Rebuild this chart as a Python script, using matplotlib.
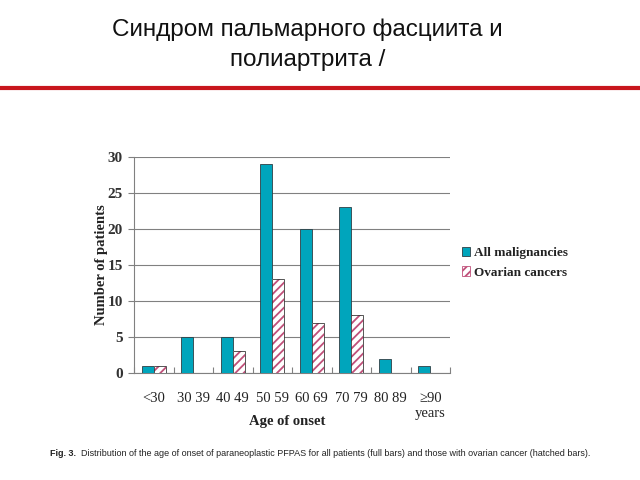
import matplotlib
matplotlib.use("Agg")
import matplotlib.pyplot as plt
import numpy as np
from matplotlib.patches import Patch

categories = ["<30", "30 39", "40 49", "50 59", "60 69", "70 79", "80 89", "≥90\nyears"]
all_malignancies = [1, 5, 5, 29, 20, 23, 2, 1]
ovarian_cancers = [1, 0, 3, 13, 7, 8, 0, 0]
yticks = [0, 5, 10, 15, 20, 25, 30]

SERIF = ['Liberation Serif', 'DejaVu Serif']
plt.rcParams['hatch.linewidth'] = 1.3

fig = plt.figure(figsize=(6.4, 4.8), dpi=100)
fig.patch.set_facecolor('white')

# Title
fig.text(0.48, 1 - 30/480, "Синдром пальмарного фасциита и", ha='center', va='center',
         fontsize=17.5, family='Liberation Sans', color='#111111')
fig.text(0.48, 1 - 60/480, "полиартрита /", ha='center', va='center',
         fontsize=17.5, family='Liberation Sans', color='#111111')
# red rule
fig.add_artist(plt.Line2D([0, 1], [1 - 88/480, 1 - 88/480], color='#c8161d', lw=3,
                          transform=fig.transFigure))

ax = fig.add_axes([134/640, 1 - 373/480, (450 - 134)/640, (373 - 157)/480])
x = np.arange(len(categories))
w = 0.3
ax.bar(x - w/2, all_malignancies, w, color='#00a5bc', edgecolor='#2f3f45', lw=0.6,
       zorder=3)
ax.bar(x + w/2, ovarian_cancers, w, color='white', edgecolor='#c0507a', lw=0,
       hatch='////', zorder=3)
ax.bar(x + w/2, ovarian_cancers, w, fill=False, edgecolor='#3a3a3a', lw=0.6, zorder=4)

ax.set_xlim(-0.5, len(categories) - 0.5)
ax.set_ylim(0, 30)
ax.set_yticks(yticks)
ax.yaxis.grid(True, color='#808080', lw=0.8, zorder=0)
ax.set_axisbelow(True)
for s in ['top', 'right']:
    ax.spines[s].set_visible(False)
ax.spines['left'].set_color('#808080')
ax.spines['bottom'].set_color('#808080')
ax.set_xticks(np.arange(-0.5, len(categories), 1.0), minor=False)
ax.set_xticklabels([])
ax.set_xticks(x, minor=True)
ax.set_xticklabels(categories, minor=True, family=SERIF, fontsize=10.5, va='top',
                   linespacing=1.2)
ax.tick_params(axis='x', which='minor', length=0, pad=14)
ax.tick_params(axis='x', which='major', length=4, direction='in', color='#808080')
ax.tick_params(axis='y', length=4, color='#808080', pad=4)
for t in ax.get_yticklabels():
    t.set_family(SERIF); t.set_fontweight('bold'); t.set_fontsize(11); t.set_color('#333333')
for t in ax.xaxis.get_minorticklabels():
    t.set_color('#222222')

ax.set_ylabel('Number of patients', family=SERIF, fontweight='bold', fontsize=10.5,
              color='#222222')
ax.yaxis.set_label_coords((108 - 134)/316, 0.5)
fig.text(287/640, 1 - 421/480, 'Age of onset', ha='center', va='center',
         family=SERIF, fontweight='bold', fontsize=10.5, color='#222222')

# legend (proxy handles)
h1 = Patch(facecolor='#00a5bc', edgecolor='#2f3f45', lw=0.6)
h2 = Patch(facecolor='white', edgecolor='#c0507a', hatch='////', lw=0.6)
leg = ax.legend([h1, h2], ['All malignancies', 'Ovarian cancers'], loc='center left',
                bbox_to_anchor=(1.0, 0.51), frameon=False,
                prop={'family': SERIF, 'weight': 'bold', 'size': 9.5},
                handlelength=0.6, handleheight=0.7, handletextpad=0.35, labelspacing=0.55)
for t in leg.get_texts():
    t.set_color('#222222')

# caption sized to fit reference width
fig.canvas.draw()
r = fig.canvas.get_renderer()
t1 = fig.text(50/640, 1 - 453/480, "Fig. 3.", ha='left', va='center',
              family='Liberation Sans', fontweight='bold', fontsize=6.5, color='#222222')
bb = t1.get_window_extent(r)
t2 = fig.text((bb.x1 + 5)/640, 1 - 453/480,
              "Distribution of the age of onset of paraneoplastic PFPAS for all patients (full bars) and those with ovarian cancer (hatched bars).",
              ha='left', va='center', family='Liberation Sans', fontsize=6.5, color='#222222')
bb2 = t2.get_window_extent(r)
avail = 636 - (bb.x1 + 5)
if bb2.width > avail:
    t2.set_fontsize(6.5 * avail / bb2.width)

fig.savefig('out.png', dpi=100)
